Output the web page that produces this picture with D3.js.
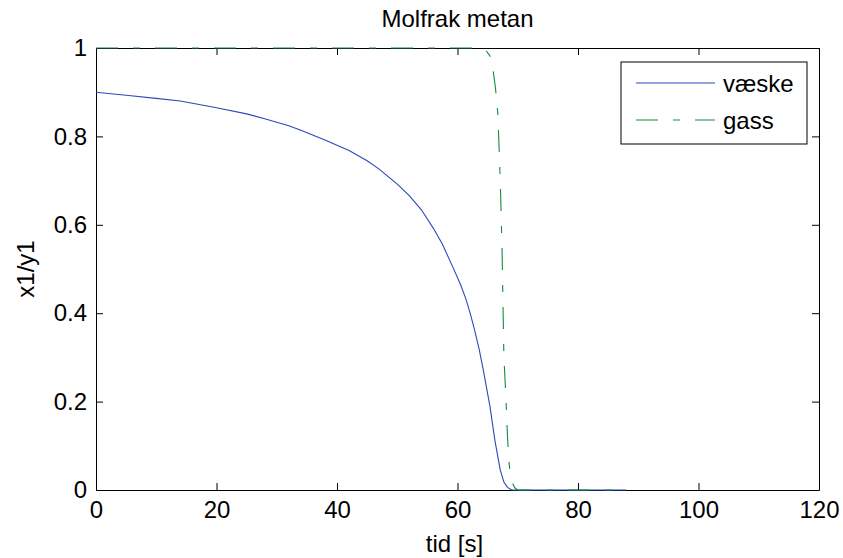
<!DOCTYPE html>
<html>
<head>
<meta charset="utf-8">
<script src="https://cdn.jsdelivr.net/npm/d3@7"></script>
<style>
  body { margin: 0; background: #fff; }
  text { font-family: "Liberation Sans", Arial, sans-serif; fill: #000; }
</style>
</head>
<body>
<svg id="chart"></svg>
<script>
// time series
const liquidTime = [0, 5, 10, 14, 20, 25, 28, 32, 34, 38, 42, 45, 47, 50, 52, 54, 56, 57.5, 59.3, 60.5, 61.4, 62.1, 62.8, 63.6, 64.3, 65.4, 66.2, 67.1, 67.7, 68.3, 69, 88];
const liquidVals = [0.9, 0.893, 0.886, 0.88, 0.865, 0.851, 0.84, 0.824, 0.814, 0.792, 0.768, 0.745, 0.726, 0.692, 0.666, 0.634, 0.592, 0.556, 0.502, 0.465, 0.432, 0.4, 0.364, 0.318, 0.27, 0.188, 0.113, 0.045, 0.018, 0.006, 0, 0];
const gasTime = [0, 60, 63, 64, 64.8, 65.5, 65.9, 66.3, 66.7, 67.1, 67.4, 67.7, 68, 68.3, 68.6, 69, 69.5, 70, 88];
const gasVals = [1, 1, 1, 0.999, 0.993, 0.98, 0.95, 0.91, 0.85, 0.7, 0.54, 0.3, 0.22, 0.12, 0.055, 0.02, 0.005, 0, 0];
const xTicks = [0, 20, 40, 60, 80, 100, 120];
const yTicks = [0, 0.2, 0.4, 0.6, 0.8, 1];
const seriesNames = ['væske', 'gass'];

const W = 843, H = 558;
const margin = { top: 48, right: 24, bottom: 68, left: 96 };
const width = W - margin.left - margin.right;
const height = H - margin.top - margin.bottom;
const fontSize = 24;
const tickLen = 7;
const colors = ['#2b4ab8', '#138a3e'];
const dashes = [null, '22,15,7,15'];

const svg = d3.select('#chart')
  .attr('width', W)
  .attr('height', H);

const g = svg.append('g')
  .attr('transform', `translate(${margin.left},${margin.top})`);

const x = d3.scaleLinear().domain([0, 120]).range([0, width]);
const y = d3.scaleLinear().domain([0, 1]).range([height, 0]);

const fmtY = d => (d === 0 || d === 1) ? String(d) : d.toFixed(1);

// axes: MATLAB style box with inward ticks on all sides
const styleAxis = sel => {
  sel.select('.domain').attr('stroke', '#000').attr('stroke-width', 1);
  sel.selectAll('.tick line').attr('stroke', '#000');
  sel.selectAll('text').attr('font-size', fontSize).attr('font-family', '"Liberation Sans", Arial, sans-serif');
};

g.append('g')
  .attr('transform', `translate(0,${height})`)
  .call(d3.axisBottom(x).tickValues(xTicks).tickSizeInner(-tickLen).tickSizeOuter(0).tickPadding(11))
  .call(styleAxis);

g.append('g')
  .call(d3.axisTop(x).tickValues(xTicks).tickSizeInner(-tickLen).tickSizeOuter(0).tickFormat(''))
  .call(styleAxis);

g.append('g')
  .call(d3.axisLeft(y).tickValues(yTicks).tickSizeInner(-tickLen).tickSizeOuter(0).tickPadding(9).tickFormat(fmtY))
  .call(styleAxis);

g.append('g')
  .attr('transform', `translate(${width},0)`)
  .call(d3.axisRight(y).tickValues(yTicks).tickSizeInner(-tickLen).tickSizeOuter(0).tickFormat(''))
  .call(styleAxis);

// lines
const line = d3.line().x(d => x(d[0])).y(d => y(d[1]));
const series = [
  d3.zip(liquidTime, liquidVals),
  d3.zip(gasTime, gasVals)
];

series.forEach((s, i) => {
  g.append('path')
    .datum(s)
    .attr('fill', 'none')
    .attr('stroke', colors[i])
    .attr('stroke-width', 1.1)
    .attr('stroke-dasharray', dashes[i])
    .attr('d', line);
});

// title and labels
svg.append('text')
  .attr('x', margin.left + width / 2)
  .attr('y', 27)
  .attr('text-anchor', 'middle')
  .attr('font-size', fontSize)
  .text('Molfrak metan');

svg.append('text')
  .attr('x', margin.left + width / 2 - 3)
  .attr('y', 552)
  .attr('text-anchor', 'middle')
  .attr('font-size', fontSize)
  .text('tid [s]');

svg.append('text')
  .attr('transform', `translate(34,${margin.top + height / 2}) rotate(-90)`)
  .attr('text-anchor', 'middle')
  .attr('font-size', fontSize)
  .text('x1/y1');

// legend
const legend = svg.append('g').attr('transform', 'translate(621,62)');
legend.append('rect')
  .attr('width', 186)
  .attr('height', 82)
  .attr('fill', '#fff')
  .attr('stroke', '#000')
  .attr('stroke-width', 1);

const item = legend.selectAll('g.item')
  .data(seriesNames)
  .enter().append('g')
  .attr('class', 'item')
  .attr('transform', (d, i) => `translate(0,${21 + i * 37})`);

item.append('line')
  .attr('x1', 15)
  .attr('x2', 94)
  .attr('stroke', (d, i) => colors[i])
  .attr('stroke-width', 1.1)
  .attr('stroke-dasharray', (d, i) => dashes[i]);

item.append('text')
  .attr('x', 102)
  .attr('y', 9)
  .attr('font-size', fontSize)
  .text(d => d);
</script>
</body>
</html>
